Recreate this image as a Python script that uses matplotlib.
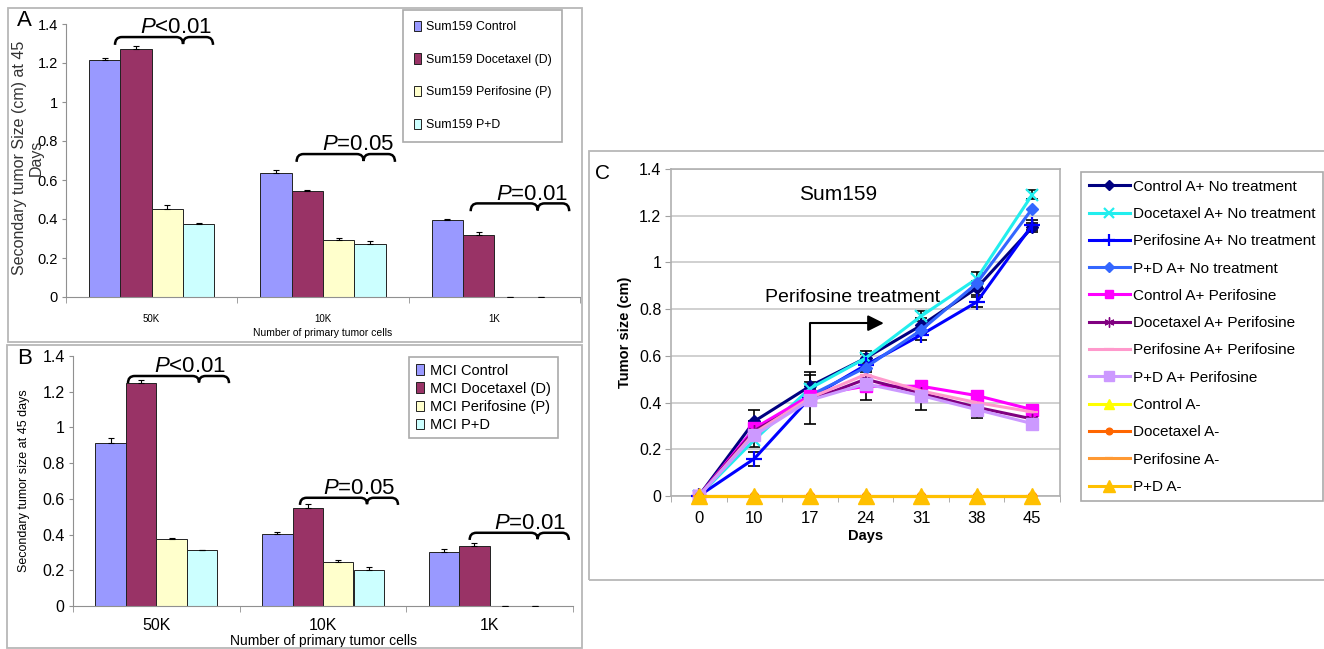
import matplotlib
matplotlib.use('Agg')
import matplotlib.pyplot as plt
import matplotlib.patches as patches
from matplotlib.path import Path
from matplotlib import font_manager
import numpy as np

plt.rcParams['font.family'] = ['Liberation Sans', 'DejaVu Sans']
plt.rcParams['mathtext.fontset'] = 'custom'
plt.rcParams['mathtext.rm'] = 'Liberation Sans'
plt.rcParams['mathtext.it'] = 'Liberation Sans:italic'

installed = {f.name for f in font_manager.fontManager.ttflist}
narrow = 'Liberation Sans Narrow' if 'Liberation Sans Narrow' in installed else 'Liberation Sans'

# ---- data: panels A and B (bars) ----
samples = ['50K', '10K', '1K']
bar_colors = ['#9999FF', '#993366', '#FFFFCC', '#CCFFFF']

a_labels = ['Sum159 Control', 'Sum159 Docetaxel (D)', 'Sum159 Perifosine (P)', 'Sum159 P+D']
a_control = [1.215, 0.637, 0.393]
a_docetaxel = [1.27, 0.544, 0.318]
a_perifosine = [0.452, 0.293, 0.0]
a_pd = [0.372, 0.272, 0.0]
a_control_err = [0.01, 0.015, 0.005]
a_docetaxel_err = [0.015, 0.005, 0.015]
a_perifosine_err = [0.022, 0.012, 0.0]
a_pd_err = [0.008, 0.016, 0.0]

b_labels = ['MCI Control', 'MCI Docetaxel (D)', 'MCI Perifosine (P)', 'MCI P+D']
b_control = [0.911, 0.405, 0.30]
b_docetaxel = [1.25, 0.548, 0.335]
b_perifosine = [0.373, 0.247, 0.0]
b_pd = [0.311, 0.204, 0.0]
b_control_err = [0.03, 0.008, 0.018]
b_docetaxel_err = [0.015, 0.022, 0.018]
b_perifosine_err = [0.01, 0.01, 0.0]
b_pd_err = [0.004, 0.014, 0.0]

# significance brackets: (group, left, cusp, right, height, label)
a_brackets = [(0, -0.214, 0.183, 0.358, 1.333, '$\\it{P}$<0.01'),
              (1, -0.154, 0.237, 0.42, 0.733, '$\\it{P}$=0.05'),
              (2, -0.138, 0.253, 0.437, 0.48, '$\\it{P}$=0.01')]
b_brackets = [(0, -0.17, 0.256, 0.436, 1.288, '$\\it{P}$<0.01'),
              (1, -0.138, 0.264, 0.45, 0.606, '$\\it{P}$=0.05'),
              (2, -0.12, 0.288, 0.475, 0.41, '$\\it{P}$=0.01')]

# ---- data: panel C (lines) ----
days = ['0', '10', '17', '24', '31', '38', '45']
c_names = ['Control A+ No treatment', 'Docetaxel A+ No treatment',
           'Perifosine A+ No treatment', 'P+D A+ No treatment',
           'Control A+ Perifosine', 'Docetaxel A+ Perifosine',
           'Perifosine A+ Perifosine', 'P+D A+ Perifosine',
           'Control A-', 'Docetaxel A-', 'Perifosine A-', 'P+D A-']
control_nt = [0, 0.32, 0.47, 0.59, 0.73, 0.89, 1.15]
docetaxel_nt = [0, 0.24, 0.46, 0.59, 0.77, 0.93, 1.29]
perifosine_nt = [0, 0.16, 0.42, 0.56, 0.69, 0.83, 1.16]
pd_nt = [0, 0.27, 0.43, 0.55, 0.71, 0.91, 1.23]
control_p = [0, 0.29, 0.43, 0.47, 0.47, 0.43, 0.37]
docetaxel_p = [0, 0.28, 0.41, 0.50, 0.44, 0.38, 0.33]
perifosine_p = [0, 0.27, 0.42, 0.52, 0.45, 0.40, 0.36]
pd_p = [0, 0.26, 0.41, 0.48, 0.43, 0.37, 0.31]
control_a = [0, 0, 0, 0, 0, 0, 0]
docetaxel_a = [0, 0, 0, 0, 0, 0, 0]
perifosine_a = [0, 0, 0, 0, 0, 0, 0]
pd_a = [0, 0, 0, 0, 0, 0, 0]
control_nt_err = [0, 0.05, 0.05, 0.03, 0.03, 0.03, 0.02]
docetaxel_nt_err = [0, 0.03, 0.03, 0.02, 0.02, 0.03, 0.02]
perifosine_nt_err = [0, 0.03, 0.11, 0.02, 0.02, 0.02, 0.02]
control_p_err = [0, 0.03, 0.03, 0.06, 0.02, 0.02, 0.02]
pd_p_err = [0, 0.02, 0.02, 0.02, 0.06, 0.035, 0.02]

c_series = [control_nt, docetaxel_nt, perifosine_nt, pd_nt, control_p, docetaxel_p,
            perifosine_p, pd_p, control_a, docetaxel_a, perifosine_a, pd_a]
c_errors = {0: control_nt_err, 1: docetaxel_nt_err, 2: perifosine_nt_err,
            4: control_p_err, 7: pd_p_err}
c_colors = ['#000080', '#22EEEE', '#0000FF', '#3366FF', '#FF00FF', '#800080',
            '#FF99CC', '#CC99FF', '#FFFF00', '#FF6600', '#FF9933', '#FFC000']
c_markers = ['D', 'x', '+', 'D', 's', (6, 2, 0), '_', 's', '^', 'o', '_', '^']
c_msizes = [6, 9, 11, 6, 8, 9, 9, 9, 9, 6, 8, 11]

W, H = 1324, 649


def rect(l, t, r, b):
    return [l / W, 1 - b / H, (r - l) / W, (b - t) / H]


def box(l, t, r, b):
    fig.add_artist(patches.Rectangle((l / W, 1 - b / H), (r - l) / W, (b - t) / H,
                                     transform=fig.transFigure, fill=False,
                                     edgecolor='#b8b8b8', lw=1.3))


def brace(ax, x0, xc, x1, y, r=0.04, h=0.04):
    verts = [(x0, y - h), (x0, y), (x0 + r, y), (xc - r, y), (xc, y), (xc, y - h * 0.9),
             (xc, y), (xc + r, y), (x1 - r, y), (x1, y), (x1, y - h)]
    codes = [Path.MOVETO, Path.CURVE3, Path.CURVE3, Path.LINETO, Path.CURVE3, Path.CURVE3,
             Path.CURVE3, Path.CURVE3, Path.LINETO, Path.CURVE3, Path.CURVE3]
    ax.add_patch(patches.PathPatch(Path(verts, codes), fill=False, lw=1.8,
                                   edgecolor='black', zorder=5, clip_on=False))


def bar_panel(ax, series, errs, labels, brackets, txt_dx):
    x = np.arange(len(samples))
    width = 0.183
    for i in range(4):
        pos = x + (i - 1.5) * width
        ax.bar(pos, series[i], width, color=bar_colors[i], edgecolor='#222222', lw=0.7,
               label=labels[i], zorder=2)
        ax.errorbar(pos, series[i], yerr=[np.zeros(3), errs[i]], fmt='none',
                    ecolor='black', elinewidth=0.8, capsize=2.5, capthick=0.8, zorder=3)
    for g, l, c, r, y, lab in brackets:
        brace(ax, g + l, g + c, g + r, y)
        ax.text(g + r - txt_dx, y + 0.02, lab, ha='right', va='baseline', fontsize=16,
                zorder=6)
    ax.set_xlim(-0.5, 2.5)
    ax.set_ylim(0, 1.4)
    ticks = np.round(np.arange(0, 1.41, 0.2), 1)
    ax.set_yticks(ticks)
    ax.set_yticklabels([f'{t:g}' for t in ticks])
    ax.set_xticks(x)
    ax.set_xticklabels(samples)
    ax.set_xticks([-0.5, 0.5, 1.5, 2.5], minor=True)
    ax.tick_params(axis='x', which='major', length=0)
    ax.tick_params(axis='x', which='minor', length=4, color='#909090')
    ax.tick_params(axis='y', length=3, color='#909090')
    for s in ['top', 'right']:
        ax.spines[s].set_visible(False)
    for s in ['left', 'bottom']:
        ax.spines[s].set_color('#909090')


fig = plt.figure(figsize=(W / 100, H / 100), dpi=100)

box(8, 8, 582, 342)
box(7, 345, 582, 648)
box(589, 151, 1340, 580)

# ---- panel A ----
axA = fig.add_axes(rect(66, 24, 580, 297))
bar_panel(axA, [a_control, a_docetaxel, a_perifosine, a_pd],
          [a_control_err, a_docetaxel_err, a_perifosine_err, a_pd_err],
          a_labels, a_brackets, 0.006)
axA.tick_params(axis='y', labelsize=10.5, pad=3)
for t in axA.get_yticklabels():
    t.set_family(narrow)
axA.tick_params(axis='x', labelsize=7, pad=12)
axA.set_xlabel('Number of primary tumor cells', fontsize=7.5, labelpad=3)
fig.text(20 / W, 1 - 158 / H, 'Secondary tumor Size (cm) at 45', rotation=90,
         ha='center', va='center', fontsize=11.5, color='#333333')
fig.text(36 / W, 1 - 158 / H, 'Days', rotation=90,
         ha='center', va='center', fontsize=11.5, color='#333333')
fig.text(17 / W, 1 - 21 / H, 'A', fontsize=16, ha='left', va='center')
legA = axA.legend(loc='upper left', bbox_to_anchor=(403 / W, 1 - 10 / H),
                  bbox_transform=fig.transFigure, borderaxespad=0, fancybox=False,
                  edgecolor='#aaaaaa', framealpha=1, prop={'family': narrow, 'size': 8.9},
                  handlelength=0.6, handleheight=0.9, handletextpad=0.4,
                  labelspacing=1.65, borderpad=0.85)
legA.get_frame().set_linewidth(1.2)

# ---- panel B ----
axB = fig.add_axes(rect(73, 356, 573, 606))
bar_panel(axB, [b_control, b_docetaxel, b_perifosine, b_pd],
          [b_control_err, b_docetaxel_err, b_perifosine_err, b_pd_err],
          b_labels, b_brackets, 0.015)
axB.tick_params(axis='y', labelsize=11.5, pad=3)
axB.tick_params(axis='x', labelsize=11.5, pad=9)
axB.set_xlabel('Number of primary tumor cells', fontsize=10, labelpad=0)
axB.set_ylabel('Secondary tumor size at 45 days', fontsize=9, labelpad=9)
fig.text(17 / W, 1 - 358 / H, 'B', fontsize=16, ha='left', va='center')
legB = axB.legend(loc='upper left', bbox_to_anchor=(409 / W, 1 - 357 / H),
                  bbox_transform=fig.transFigure, borderaxespad=0, fancybox=False,
                  edgecolor='#aaaaaa', framealpha=1, fontsize=10.5,
                  handlelength=0.6, handleheight=0.7, handletextpad=0.4,
                  labelspacing=0.28, borderpad=0.45)
legB.get_frame().set_linewidth(1.2)

# ---- panel C ----
axC = fig.add_axes(rect(671, 169, 1060, 496))
xc = np.arange(len(days))
for i, vals in enumerate(c_series):
    if i in c_errors:
        axC.errorbar(xc, vals, yerr=c_errors[i], fmt='none', ecolor='black',
                     elinewidth=1.2, capsize=4, capthick=1.2, zorder=3)
for i, vals in enumerate(c_series):
    axC.plot(xc, vals, color=c_colors[i], lw=2.2, marker=c_markers[i],
             markersize=c_msizes[i], markeredgewidth=1.6 if c_markers[i] in ['x', '+', '_'] else 1,
             markeredgecolor=c_colors[i], label=c_names[i], zorder=4 + i * 0.01, clip_on=False)
axC.set_xlim(-0.5, 6.5)
axC.set_ylim(0, 1.4)
ticks = np.round(np.arange(0, 1.41, 0.2), 1)
axC.set_yticks(ticks)
axC.set_yticklabels([f'{t:g}' for t in ticks])
axC.set_xticks(xc)
axC.set_xticklabels(days)
axC.set_xticks(np.arange(-0.5, 7, 1), minor=True)
axC.tick_params(axis='x', which='major', length=0, labelsize=12, pad=11)
axC.tick_params(axis='x', which='minor', length=4, color='#a0a0a0')
axC.tick_params(axis='y', length=4, color='#a0a0a0', labelsize=11.5, pad=3)
axC.grid(axis='y', color='#c8c8c8', lw=1.2, zorder=0)
axC.set_axisbelow(True)
for s in axC.spines.values():
    s.set_color('#b0b0b0')
    s.set_linewidth(1.2)
axC.set_xlabel('Days', fontsize=10.5, fontweight='bold', labelpad=2)
axC.set_ylabel('Tumor size (cm)', fontsize=10.5, fontweight='bold', labelpad=5)
axC.text(2.5, 1.29, 'Sum159', ha='center', va='center', fontsize=15)
axC.text(2.77, 0.85, 'Perifosine treatment', ha='center', va='center', fontsize=14)
axC.plot([2, 2, 3.1], [0.565, 0.74, 0.74], color='black', lw=1.5, zorder=6)
axC.annotate('', xy=(3.38, 0.74), xytext=(3.0, 0.74),
             arrowprops=dict(arrowstyle='-|>', mutation_scale=24, color='black', lw=1.5),
             zorder=6)
fig.text(603 / W, 1 - 173 / H, 'C', fontsize=15, ha='center', va='center')
legC = axC.legend(loc='upper left', bbox_to_anchor=(1081 / W, 1 - 172 / H),
                  bbox_transform=fig.transFigure, borderaxespad=0, fancybox=False,
                  edgecolor='#aaaaaa', framealpha=1, fontsize=11,
                  handlelength=2.7, handletextpad=0.2, labelspacing=0.87,
                  borderpad=0.5, markerscale=0.8)
legC.get_frame().set_linewidth(1.2)

fig.savefig('out.png', dpi=100)
